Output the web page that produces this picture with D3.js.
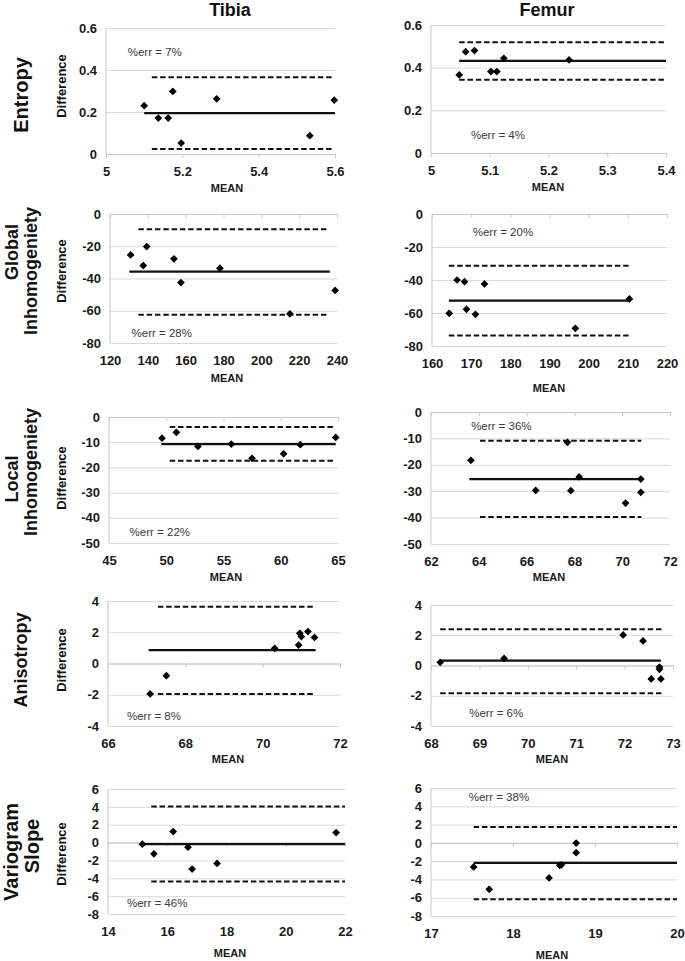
<!DOCTYPE html>
<html><head><meta charset="utf-8">
<script src="https://cdn.jsdelivr.net/npm/d3@7"></script>
<style>
body{margin:0;background:#fff;}
svg{display:block;font-family:"Liberation Sans",Arial,Helvetica,sans-serif;}
</style>
</head><body>
<svg id="chart" width="685" height="961"></svg>
<script>
// ---------------- DATA ----------------
const columnTitles = ["Tibia", "Femur"];
const rowTitles = [["Entropy"], ["Global", "Inhomogeniety"], ["Local", "Inhomogeniety"], ["Anisotropy"], ["Variogram", "Slope"]];

// [mean, difference] pairs
const tibiaEntropy = [[5.100,0.230],[5.137,0.171],[5.163,0.171],[5.175,0.298],[5.197,0.052],[5.290,0.263],[5.534,0.087],[5.598,0.256]];
const femurEntropy = [[5.048,0.366],[5.059,0.475],[5.074,0.480],[5.102,0.382],[5.112,0.382],[5.124,0.444],[5.235,0.436]];
const tibiaGlobal = [[130.9,-25.4],[137.6,-32.0],[139.4,-20.2],[153.8,-27.8],[157.5,-42.5],[178.1,-33.6],[215.1,-61.9],[239.0,-47.4]];
const femurGlobal = [[164.4,-60.2],[166.4,-40.0],[168.3,-41.0],[168.8,-57.8],[171.1,-60.8],[173.4,-42.4],[196.6,-69.3],[210.4,-51.5]];
const tibiaLocal = [[49.63,-8.4],[50.88,-6.1],[52.77,-11.7],[55.68,-10.8],[57.49,-16.4],[60.25,-14.6],[61.71,-11.0],[64.80,-8.1]];
const femurLocal = [[63.67,-18.3],[66.38,-29.7],[67.71,-11.5],[67.85,-29.8],[68.20,-24.6],[70.14,-34.5],[70.78,-25.4],[70.78,-30.4]];
const tibiaAnisotropy = [[67.09,-1.95],[67.51,-0.78],[70.31,0.97],[70.93,1.18],[70.96,1.93],[71.00,1.72],[71.17,2.04],[71.34,1.67]];
const femurAnisotropy = [[68.19,0.21],[69.51,0.47],[71.97,2.02],[72.38,1.62],[72.55,-0.89],[72.72,-0.25],[72.72,-0.10],[72.75,-0.89]];
const tibiaVariogram = [[15.16,-0.18],[15.55,-1.26],[16.20,1.23],[16.70,-0.52],[16.84,-2.97],[17.68,-2.34],[21.70,1.12]];
const femurVariogram = [[17.52,-2.64],[17.71,-5.08],[18.44,-3.84],[18.57,-2.46],[18.59,-2.40],[18.77,-1.07],[18.77,-0.02]];

const panelPoints = [tibiaEntropy, femurEntropy, tibiaGlobal, femurGlobal, tibiaLocal, femurLocal, tibiaAnisotropy, femurAnisotropy, tibiaVariogram, femurVariogram];

const biasValues  = [0.195, 0.432, -35.7, -52.5, -10.8, -25.4, 0.86, 0.32, -0.18, -2.2];
const upperLimits = [0.365, 0.519, -9.5, -31.3, -4.0, -10.9, 3.64, 2.39, 4.03, 1.73];
const lowerLimits = [0.024, 0.343, -62.5, -73.7, -17.4, -39.8, -1.95, -1.84, -4.35, -6.18];
const biasSpan  = [[5.10,5.60],[5.048,5.40],[130.2,236.2],[164.3,210.2],[49.57,64.8],[63.6,70.8],[67.05,71.37],[68.19,72.75],[15.18,22],[17.52,20]];
const limitSpan = [[5.12,5.595],[5.048,5.40],[135.0,235.3],[164.3,210.2],[50.3,64.7],[64.05,70.8],[67.29,71.34],[68.19,72.77],[15.46,22],[17.52,20]];

const errLabels = ["%err = 7%","%err = 4%","%err = 28%","%err = 20%","%err = 22%","%err = 36%","%err = 8%","%err = 6%","%err = 46%","%err = 38%"];
const errAnchors = [[5.057,0.486],[5.068,0.084],[131.4,-73.8],[170.4,-10.9],[46.8,-45.6],[63.68,-5.3],[66.49,-3.36],[68.79,-3.14],[14.64,-6.77],[17.46,5.0]];

const xTickValues = [
  [5,5.2,5.4,5.6],[5,5.1,5.2,5.3,5.4],
  [120,140,160,180,200,220,240],[160,170,180,190,200,210,220],
  [45,50,55,60,65],[62,64,66,68,70,72],
  [66,68,70,72],[68,69,70,71,72,73],
  [14,16,18,20,22],[17,18,19,20]];
const yTickValues = [
  [0,0.2,0.4,0.6],[0,0.2,0.4,0.6],
  [-80,-60,-40,-20,0],[-80,-60,-40,-20,0],
  [-50,-40,-30,-20,-10,0],[-50,-40,-30,-20,-10,0],
  [-4,-2,0,2,4],[-4,-2,0,2,4],
  [-8,-6,-4,-2,0,2,4,6],[-8,-6,-4,-2,0,2,4,6]];

const xAxisTitle = "MEAN";
const yAxisTitle = "Difference";

// ---------------- LAYOUT ----------------
const frames = [ // [left, right, top, bottom]
  [106,335,28,154],[431,666,25,153],
  [110,337,214,343],[432,667,214,346],
  [109,338,417,543],[431,670,412,544],
  [108,340,601,726],[431,673,605,726],
  [108,345,789,914],[431,677,788,916]];
const meanTitlePos = [[227,188],[548,187],[227,378],[549,388],[226,577],[549,577],[228,759],[552,759],[230,953],[552,955]];
const diffTitleY = [86,271,478,660,854];
const rowTitleLayout = [
  {size:20, lines:[[28,95]]},
  {size:18, lines:[[18,252],[37,271]]},
  {size:18, lines:[[18,479],[37,472]]},
  {size:18, lines:[[27,660]]},
  {size:20, lines:[[18,852],[39,846]]}];

const fmt = v => String(+v.toFixed(3));

const svg = d3.select("#chart");
svg.append("rect").attr("width",685).attr("height",961).attr("fill","#fff");

// column titles
svg.selectAll("text.col").data(columnTitles).join("text")
  .attr("class","col")
  .attr("x",(d,i)=> i===0 ? 230 : 547).attr("y",10)
  .attr("text-anchor","middle").attr("dominant-baseline","central")
  .attr("font-size",18).attr("font-weight","bold").attr("fill","#111")
  .text(d=>d);

// row titles and Difference labels
rowTitles.forEach((lines,r)=>{
  const lay = rowTitleLayout[r];
  lines.forEach((t,li)=>{
    const [bx,cy] = lay.lines[li];
    svg.append("text")
      .attr("transform",`translate(${bx},${cy}) rotate(-90)`)
      .attr("text-anchor","middle")
      .attr("font-size",lay.size).attr("font-weight","bold").attr("fill","#111")
      .text(t);
  });
  svg.append("text")
    .attr("transform",`translate(66,${diffTitleY[r]}) rotate(-90)`)
    .attr("text-anchor","middle")
    .attr("font-size",13).attr("font-weight","bold").attr("fill","#111")
    .text(yAxisTitle);
});

const diamond = d3.symbol().type(d3.symbolSquare).size(30);

panelPoints.forEach((pts,i)=>{
  const [L,R,T,B] = frames[i];
  const xt = xTickValues[i], yt = yTickValues[i];
  const x = d3.scaleLinear().domain([xt[0], xt[xt.length-1]]).range([L,R]);
  const y = d3.scaleLinear().domain([yt[0], yt[yt.length-1]]).range([B,T]);
  const g = svg.append("g");

  // gridlines
  g.append("g").attr("transform",`translate(${L},0)`)
    .call(d3.axisLeft(y).tickValues(yt).tickSize(-(R-L)).tickFormat(""))
    .call(s=>s.select(".domain").remove())
    .call(s=>s.selectAll("line").attr("stroke","#d9d9d9").attr("stroke-width",1));

  // y axis line + labels
  g.append("line").attr("x1",L).attr("x2",L).attr("y1",T).attr("y2",B)
    .attr("stroke","#c8c8c8").attr("stroke-width",1);
  g.append("g").attr("transform",`translate(${L},0)`)
    .call(d3.axisLeft(y).tickValues(yt).tickSize(0).tickPadding(9).tickFormat(fmt))
    .call(s=>s.select(".domain").remove())
    .call(s=>s.selectAll("text").attr("font-size",13).attr("font-weight","bold")
      .attr("fill","#1a1a1a").attr("font-family","Liberation Sans, Arial, sans-serif"));

  // x axis line at y = 0 with tick marks
  const y0 = y(0);
  g.append("g").attr("transform",`translate(0,${y0})`)
    .call(d3.axisBottom(x).tickValues(xt).tickSize(4).tickFormat(""))
    .call(s=>s.select(".domain").attr("stroke","#c8c8c8"))
    .call(s=>s.selectAll("line").attr("stroke","#c8c8c8"));

  // x tick labels at bottom
  g.append("g").attr("transform",`translate(0,${B})`)
    .call(d3.axisBottom(x).tickValues(xt).tickSize(0).tickFormat(fmt))
    .call(s=>s.select(".domain").remove())
    .call(s=>s.selectAll("text").attr("y",17).attr("dy","0.35em")
      .attr("font-size",13).attr("font-weight","bold").attr("fill","#1a1a1a")
      .attr("font-family","Liberation Sans, Arial, sans-serif"));

  // MEAN title
  g.append("text").attr("x",meanTitlePos[i][0]).attr("y",meanTitlePos[i][1])
    .attr("text-anchor","middle").attr("dominant-baseline","central")
    .attr("font-size",11).attr("font-weight","bold").attr("fill","#1a1a1a")
    .text(xAxisTitle);

  // limits of agreement (dashed)
  [upperLimits[i], lowerLimits[i]].forEach(v=>{
    g.append("line")
      .attr("x1",x(limitSpan[i][0])).attr("x2",x(limitSpan[i][1]))
      .attr("y1",y(v)).attr("y2",y(v))
      .attr("stroke","#111").attr("stroke-width",2).attr("stroke-dasharray","5.5,2.8");
  });
  // bias (solid)
  g.append("line")
    .attr("x1",x(biasSpan[i][0])).attr("x2",x(biasSpan[i][1]))
    .attr("y1",y(biasValues[i])).attr("y2",y(biasValues[i]))
    .attr("stroke","#111").attr("stroke-width",2.2);

  // points
  g.selectAll("path.pt").data(pts).join("path")
    .attr("class","pt")
    .attr("d",diamond)
    .attr("transform",d=>`translate(${x(d[0])},${y(d[1])}) rotate(45)`)
    .attr("fill","#000");

  // %err annotation
  g.append("text")
    .attr("x",x(errAnchors[i][0])).attr("y",y(errAnchors[i][1]))
    .attr("dominant-baseline","central")
    .attr("font-size",11.5).attr("fill","#3a3a3a")
    .attr("font-family","Liberation Sans, Arial, sans-serif")
    .text(errLabels[i]);
});
</script>
</body></html>
